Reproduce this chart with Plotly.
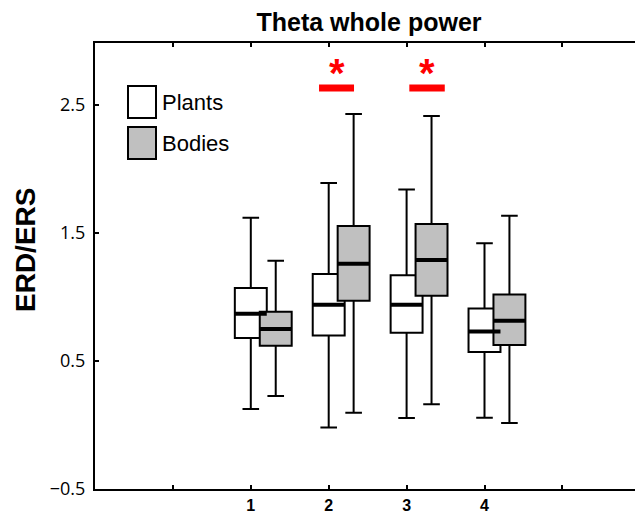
import plotly.graph_objects as go

# ---- data ----
categories = [1, 2, 3, 4]
tick_labels = ["1", "2", "3", "4"]

plants_low = [0.125, -0.02, 0.055, 0.057]
plants_q1 = [0.68, 0.70, 0.72, 0.57]
plants_median = [0.87, 0.94, 0.94, 0.73]
plants_q3 = [1.07, 1.18, 1.17, 0.91]
plants_high = [1.62, 1.89, 1.84, 1.42]

bodies_low = [0.227, 0.096, 0.162, 0.016]
bodies_q1 = [0.62, 0.97, 1.01, 0.625]
bodies_median = [0.75, 1.26, 1.29, 0.815]
bodies_q3 = [0.885, 1.555, 1.57, 1.02]
bodies_high = [1.284, 2.43, 2.414, 1.635]

significant = [2, 3]
sig_level = 2.633

# ---- layout constants ----
W, H = 635, 515
ML, MR, MT, MB = 95, 0, 43, 26
PW, PH = W - ML - MR, H - MT - MB
BOX_W = 0.41
OFFSETS = {"Plants": 0.0, "Bodies": 0.32}
FONT = "Liberation Sans, Arial, sans-serif"

fig = go.Figure()

groups = [
    ("Plants", "white", plants_low, plants_q1, plants_median, plants_q3, plants_high),
    ("Bodies", "#c0c0c0", bodies_low, bodies_q1, bodies_median, bodies_q3, bodies_high),
]

for name, fill, lo, q1, med, q3, hi in groups:
    pos = [c + OFFSETS[name] for c in categories]
    fig.add_trace(go.Box(
        x=pos, q1=q1, median=med, q3=q3, lowerfence=lo, upperfence=hi,
        width=BOX_W, whiskerwidth=0.52, fillcolor=fill,
        line=dict(color="black", width=2), boxpoints=False,
        name=name, showlegend=False,
    ))
    mx, my = [], []
    for p, m in zip(pos, med):
        mx += [p - BOX_W / 2, p + BOX_W / 2, None]
        my += [m, m, None]
    fig.add_trace(go.Scatter(x=mx, y=my, mode="lines",
                             line=dict(color="black", width=4),
                             showlegend=False, hoverinfo="skip"))

# significance bars and stars
bar_spans = {2: (-0.124, 0.325), 3: (0.035, 0.49)}
for c in significant:
    a, b = bar_spans[c]
    fig.add_shape(type="line", x0=c + a, x1=c + b, y0=sig_level, y1=sig_level,
                  xref="x", yref="y", line=dict(color="#ff0000", width=7))
    fig.add_annotation(x=c + (a + b) / 2, y=sig_level, xref="x", yref="y",
                       text="<b>*</b>", showarrow=False, yanchor="bottom",
                       yshift=-9, font=dict(family=FONT, size=40, color="#ff0000"))

# manual legend (pixel -> paper)
def px(x):
    return (x - ML) / PW

def py(y):
    return (H - MB - y) / PH

for (label, fill), (y0, y1) in zip([("Plants", "white"), ("Bodies", "#c0c0c0")],
                                    [(86, 118), (127, 159)]):
    fig.add_shape(type="rect", xref="paper", yref="paper",
                  x0=px(128), x1=px(156), y0=py(y1), y1=py(y0),
                  fillcolor=fill, line=dict(color="black", width=2))
    fig.add_annotation(xref="paper", yref="paper", x=px(160), y=py((y0 + y1) / 2),
                       text=label, showarrow=False, xanchor="left", yanchor="middle",
                       font=dict(family=FONT, size=22, color="black"))

# y-axis title as annotation (positioned like the reference)
fig.add_annotation(xref="paper", yref="paper", x=px(25), y=py(250),
                   text="<b>ERD/ERS</b>", textangle=-90, showarrow=False,
                   xanchor="center", yanchor="middle",
                   font=dict(family=FONT, size=28, color="black"))

fig.update_layout(
    width=W, height=H,
    margin=dict(l=ML, r=MR, t=MT, b=MB),
    paper_bgcolor="white", plot_bgcolor="white",
    title=dict(text="<b>Theta whole power</b>", x=369 / W, xanchor="center",
               y=1 - 22 / H, yanchor="middle", yref="container",
               font=dict(family=FONT, size=25, color="black")),
    showlegend=False,
    boxmode="overlay",
    xaxis=dict(range=[-1, -1 + PW / 77.9], tickvals=[0] + categories + [5],
               ticktext=[""] + ["<b>%s</b>" % t for t in tick_labels] + [""],
               ticks="inside", ticklen=4, tickwidth=1.5, tickcolor="black",
               showline=True, linecolor="black", linewidth=2, mirror="ticks",
               showgrid=False, zeroline=False, automargin=False,
               tickfont=dict(family=FONT, size=16, color="black"),
               ticklabelstandoff=1),
    yaxis=dict(range=[-0.5, -0.5 + PH / 128.0], tickvals=[-0.5, 0.5, 1.5, 2.5],
               ticktext=["\u22120.5", "0.5", "1.5", "2.5"],
               ticks="inside", ticklen=4, tickwidth=1.5, tickcolor="black",
               showline=True, linecolor="black", linewidth=2,
               showgrid=False, zeroline=False, automargin=False,
               tickfont=dict(family="Open Sans, sans-serif", size=18, color="black"),
               ticklabelstandoff=4),
)

fig.write_html("out.html")
